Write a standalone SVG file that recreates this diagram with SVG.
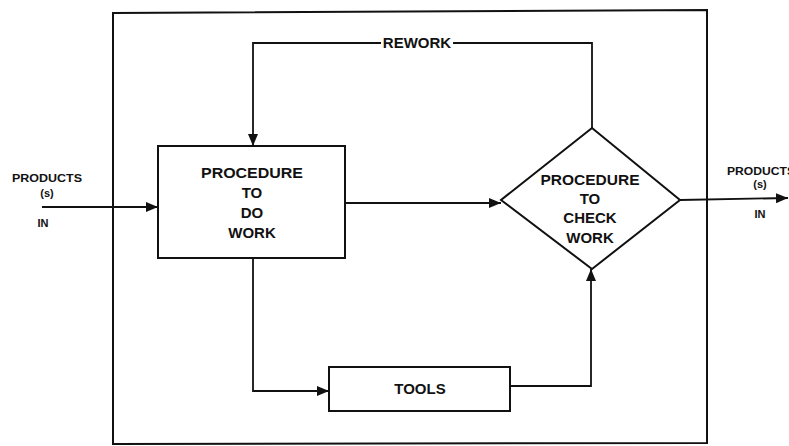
<svg xmlns="http://www.w3.org/2000/svg" width="789" height="446" viewBox="0 0 789 446">
<defs>
<marker id="ah" viewBox="0 0 12 10" refX="12" refY="5" markerWidth="12" markerHeight="10" markerUnits="userSpaceOnUse" orient="auto">
<path d="M0,0 L12,5 L0,10 Z" fill="#111"/>
</marker>
</defs>
<style>
.shape{fill:#fff;stroke:#111;stroke-width:2}
.frame{fill:none;stroke:#111;stroke-width:2}
.edge{fill:none;stroke:#111;stroke-width:1.8}
.t{font-family:"Liberation Sans",Arial,sans-serif;font-weight:bold;font-size:15px;fill:#111;text-anchor:middle}
.s{font-family:"Liberation Sans",Arial,sans-serif;font-weight:bold;font-size:11px;fill:#111;text-anchor:middle}
</style>
<rect width="789" height="446" fill="#fff"/>
<g id="frame"><path class="frame" d="M113,13 L707,10 L707,443 L113,444 Z"/></g>
<g id="connectors">
<path class="edge" d="M42,207 L158,207" marker-end="url(#ah)"/>
<path class="edge" d="M345,203 L501,203" marker-end="url(#ah)"/>
<path class="edge" d="M680,200 L788,198" marker-end="url(#ah)"/>
<path class="edge" d="M592,128 L592,43 L253,43 L253,146" marker-end="url(#ah)"/>
<path class="edge" d="M253,258 L253,391 L329,391" marker-end="url(#ah)"/>
<path class="edge" d="M510,386 L591,386 L591,269" marker-end="url(#ah)"/>
<rect x="381" y="34" width="72" height="16" fill="#fff"/>
<text class="t" x="417" y="48">REWORK</text>
</g>
<g id="products-in">
<text class="s" x="47" y="182" textLength="70" lengthAdjust="spacingAndGlyphs">PRODUCTS</text>
<text class="s" x="47" y="197" font-size="9">(s)</text>
<text class="s" x="43" y="227">IN</text>
</g>
<g id="products-out">
<text class="s" x="761" y="175" textLength="68" lengthAdjust="spacingAndGlyphs">PRODUCTS</text>
<text class="s" x="760" y="188" font-size="9">(s)</text>
<text class="s" x="760" y="218">IN</text>
</g>
<g id="do-work">
<rect class="shape" x="158" y="146" width="187" height="112"/>
<text class="t" x="252" y="178" textLength="102" lengthAdjust="spacingAndGlyphs">PROCEDURE</text>
<text class="t" x="252" y="198">TO</text>
<text class="t" x="252" y="218">DO</text>
<text class="t" x="252" y="238">WORK</text>
</g>
<g id="check-work">
<polygon class="shape" points="592,128 680,200 592,269 501,200"/>
<text class="t" x="590" y="185" textLength="99" lengthAdjust="spacingAndGlyphs">PROCEDURE</text>
<text class="t" x="590" y="204">TO</text>
<text class="t" x="590" y="223">CHECK</text>
<text class="t" x="590" y="243">WORK</text>
</g>
<g id="tools">
<rect class="shape" x="329" y="367" width="181" height="44"/>
<text class="t" x="420" y="394">TOOLS</text>
</g>
</svg>
